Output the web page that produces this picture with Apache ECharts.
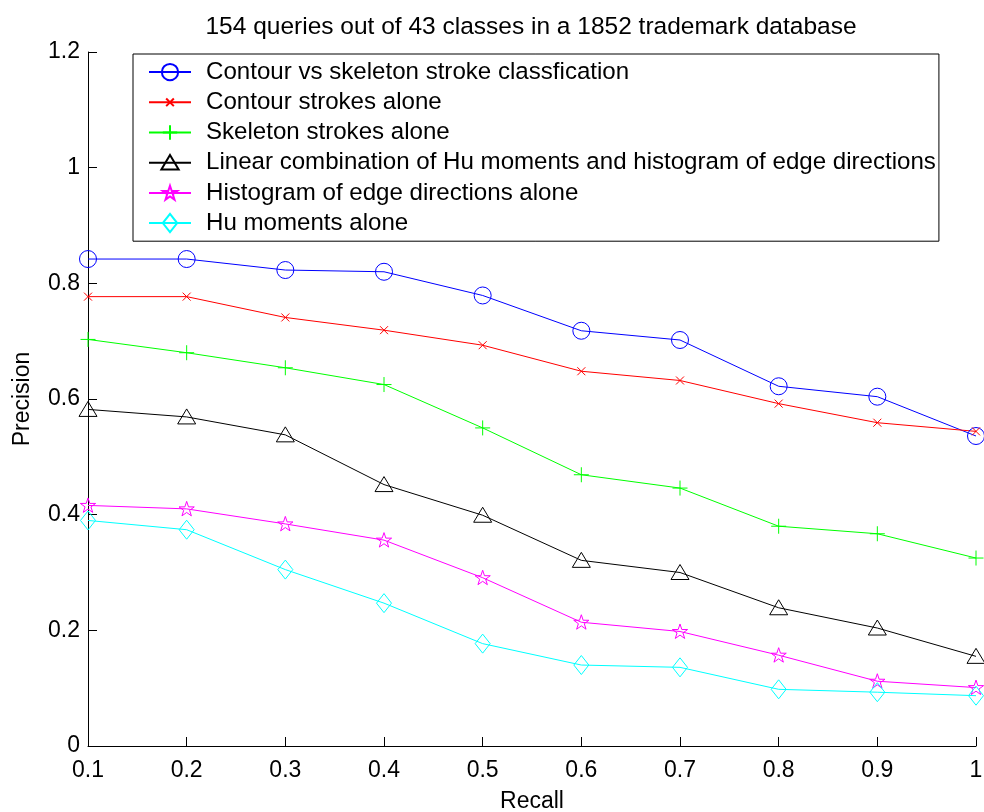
<!DOCTYPE html>
<html>
<head>
<meta charset="utf-8">
<script src="https://cdn.jsdelivr.net/npm/echarts@6/dist/echarts.min.js"></script>
<style>
html,body{margin:0;padding:0;background:#fff;}
#chart{width:984px;height:812px;}
</style>
</head>
<body>
<div id="chart"></div>
<script>
// recall values (x axis)
var recall = [0.1, 0.2, 0.3, 0.4, 0.5, 0.6, 0.7, 0.8, 0.9, 1];
// precision values per method
var contourVsSkeleton = [0.842, 0.842, 0.823, 0.820, 0.779, 0.718, 0.702, 0.622, 0.604, 0.536];
var contourAlone = [0.777, 0.777, 0.741, 0.719, 0.693, 0.648, 0.632, 0.592, 0.559, 0.544];
var skeletonAlone = [0.703, 0.680, 0.654, 0.625, 0.550, 0.469, 0.446, 0.380, 0.367, 0.325];
var linearCombo = [0.582, 0.569, 0.538, 0.452, 0.399, 0.321, 0.300, 0.239, 0.204, 0.155];
var edgeHist = [0.416, 0.410, 0.384, 0.356, 0.291, 0.214, 0.198, 0.157, 0.112, 0.101];
var huMoments = [0.390, 0.374, 0.305, 0.247, 0.177, 0.140, 0.136, 0.098, 0.093, 0.087];
var names = [
    'Contour vs skeleton stroke classfication',
    'Contour strokes alone',
    'Skeleton strokes alone',
    'Linear combination of Hu moments and histogram of edge directions',
    'Histogram of edge directions alone',
    'Hu moments alone'
];

var font = 'Liberation Sans, Arial, sans-serif';

// all markers share a 20x20 frame (the two M points) so the legend draws them at the same scale
var frame = 'path://M0,0M20,20';
var mkCircle = frame + 'M1.5,10A8.5,8.5,0,1,1,18.5,10A8.5,8.5,0,1,1,1.5,10Z';
var mkX = frame + 'M6,6L14,14M14,6L6,14';
var mkPlus = frame + 'M10,2.5L10,17.5M2.5,10L17.5,10';
var mkTri = frame + 'M10,2L19,17L1,17Z';
var mkStar = frame + 'M10,2.5L11.82,8L17.61,8.03L12.95,11.46L14.7,16.97L10,13.6L5.3,16.97L7.05,11.46L2.39,8.03L8.18,8Z';
var mkDiamond = frame + 'M10,0.5L17.5,10L10,19.5L2.5,10Z';

function pairs(ys) {
    return recall.map(function (x, i) { return [x, ys[i]]; });
}

function mkSeries(name, ys, color, symbol) {
    return {
        name: name,
        type: 'line',
        data: pairs(ys),
        symbol: symbol,
        symbolSize: 20,
        showAllSymbol: true,
        lineStyle: {color: color, width: 1},
        itemStyle: {color: 'none', borderColor: color, borderWidth: 1},
        emphasis: {disabled: true},
        z: 3
    };
}

var chart = echarts.init(document.getElementById('chart'));
chart.setOption({
    animation: false,
    backgroundColor: '#fff',
    title: {
        text: '154 queries out of 43 classes in a 1852 trademark database',
        left: 526,
        textAlign: 'center',
        top: 10,
        textStyle: {fontFamily: font, fontSize: 24.5, fontWeight: 'normal', color: '#000'}
    },
    legend: {
        orient: 'vertical',
        left: 133,
        top: 54,
        padding: [6, 3, 6, 15],
        itemWidth: 42,
        itemHeight: 24,
        itemGap: 6,
        borderColor: '#000',
        borderWidth: 1,
        backgroundColor: '#fff',
        textStyle: {fontFamily: font, fontSize: 24.1, color: '#000', lineHeight: 24, padding: [0, 0, 0, 10]},
        data: names
    },
    grid: {left: 88, top: 52, width: 888, height: 694, outerBoundsMode: 'none', containLabel: false},
    xAxis: {
        type: 'value',
        min: 0.1,
        max: 1,
        interval: 0.1,
        name: 'Recall',
        nameLocation: 'middle',
        nameGap: 44,
        nameTextStyle: {fontFamily: font, fontSize: 23, color: '#000'},
        axisLine: {lineStyle: {color: '#000', width: 1}},
        axisTick: {inside: true, length: 9, lineStyle: {color: '#000'}},
        axisLabel: {fontFamily: font, fontSize: 23, color: '#000', margin: 13},
        splitLine: {show: false}
    },
    yAxis: {
        type: 'value',
        min: 0,
        max: 1.2,
        interval: 0.2,
        name: 'Precision',
        nameLocation: 'middle',
        nameGap: 54,
        nameTextStyle: {fontFamily: font, fontSize: 23, color: '#000'},
        axisLine: {show: true, lineStyle: {color: '#000', width: 1}},
        axisTick: {show: true, inside: true, length: 9, lineStyle: {color: '#000'}},
        axisLabel: {fontFamily: font, fontSize: 23, color: '#000', margin: 8},
        splitLine: {show: false}
    },
    series: [
        mkSeries(names[0], contourVsSkeleton, '#0000ff', mkCircle),
        mkSeries(names[1], contourAlone, '#ff0000', mkX),
        mkSeries(names[2], skeletonAlone, '#00ff00', mkPlus),
        mkSeries(names[3], linearCombo, '#000000', mkTri),
        mkSeries(names[4], edgeHist, '#ff00ff', mkStar),
        mkSeries(names[5], huMoments, '#00ffff', mkDiamond)
    ]
});
</script>
</body>
</html>
